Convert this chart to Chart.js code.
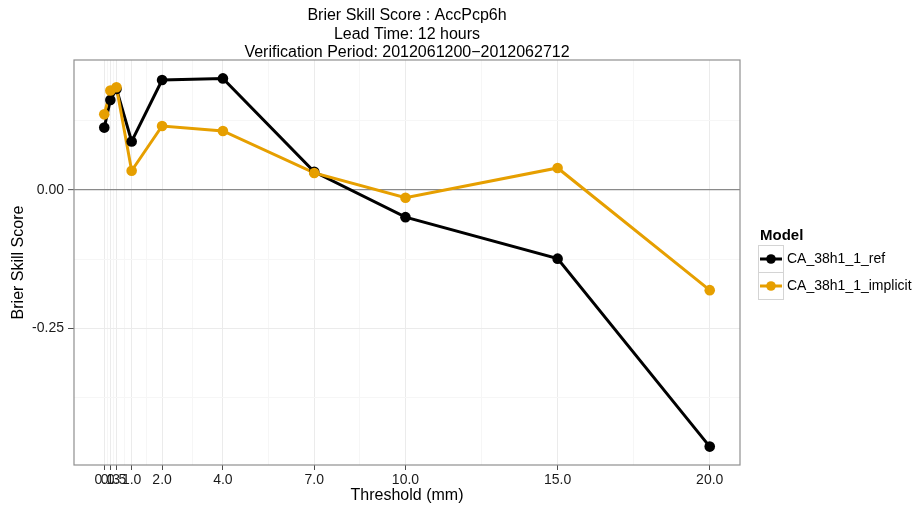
<!DOCTYPE html>
<html>
<head>
<meta charset="utf-8">
<script src="https://cdn.jsdelivr.net/npm/chart.js@4.4.1/dist/chart.umd.min.js"></script>
<style>
  html, body { margin: 0; padding: 0; background: #ffffff; }
  #wrap { width: 921px; height: 510px; position: relative; }
</style>
</head>
<body>
<div id="wrap"><canvas id="c" width="921" height="510"></canvas></div>
<script>
// Brier skill score by precipitation threshold, one series per model
const thresholds   = [0.1, 0.3, 0.5, 1.0, 2.0, 4.0, 7.0, 10.0, 15.0, 20.0];
const xTickLabels  = ['0.1', '0.3', '0.5', '1.0', '2.0', '4.0', '7.0', '10.0', '15.0', '20.0'];
const bssRef       = [0.113, 0.163, 0.183, 0.088, 0.199, 0.202, 0.033, -0.049, -0.124, -0.464];
const bssImplicit  = [0.137, 0.180, 0.186, 0.035, 0.116, 0.107, 0.031, -0.014, 0.040, -0.181];
const modelNames   = ['CA_38h1_1_ref', 'CA_38h1_1_implicit'];
const modelColors  = ['#000000', '#E69F00'];
const yBreaks      = [-0.25, 0.0];
const yTickLabels  = ['-0.25', '0.00'];
const titleLines   = ['Brier Skill Score : AccPcp6h', 'Lead Time: 12 hours', 'Verification Period: 2012061200\u22122012062712'];
const xTitle = 'Threshold (mm)';
const yTitle = 'Brier Skill Score';
const legendTitle = 'Model';

const FONT = '"Liberation Sans", Arial, Helvetica, sans-serif';

// continuous-scale limits padded by 5% of the data range on both sides
function expandRange(values, mult) {
  const lo = Math.min(...values), hi = Math.max(...values);
  const pad = (hi - lo) * mult;
  return [lo - pad, hi + pad];
}
const [xMin, xMax] = expandRange(thresholds, 0.05);
const [yMin, yMax] = expandRange(bssRef.concat(bssImplicit), 0.05);

// minor grid lines sit halfway between neighbouring breaks
function midpoints(breaks) {
  const out = [];
  for (let i = 0; i < breaks.length - 1; i++) out.push((breaks[i] + breaks[i + 1]) / 2);
  return out;
}
const xMinor = midpoints(thresholds);
const yMinor = midpoints([-0.5].concat(yBreaks, [0.25])).filter(v => v > yMin && v < yMax);

function pts(ys) { return thresholds.map((x, i) => ({ x: x, y: ys[i] })); }
const series = [bssRef, bssImplicit];

const datasets = [];
// lines for every model go underneath, points on top
series.forEach((ys, i) => {
  datasets.push({
    label: modelNames[i], data: pts(ys), showLine: true,
    borderColor: modelColors[i], borderWidth: 3, pointRadius: 0,
    order: 3 - i
  });
});
series.forEach((ys, i) => {
  datasets.push({
    label: modelNames[i] + ' points', data: pts(ys), showLine: false,
    backgroundColor: modelColors[i], borderColor: modelColors[i], borderWidth: 0,
    pointRadius: 5.3, order: 1 - i
  });
});

const isMajor = (list, v) => list.some(b => Math.abs(b - v) < 1e-9);

const panelPlugin = {
  id: 'panelDecor',
  afterDatasetsDraw(chart) {
    const { ctx, chartArea: a } = chart;
    ctx.save();
    ctx.strokeStyle = '#8f8f8f';
    ctx.lineWidth = 1.2;
    ctx.strokeRect(a.left, a.top, a.right - a.left, a.bottom - a.top);
    ctx.restore();
  },
  afterDraw(chart) {
    const { ctx, chartArea: a } = chart;
    ctx.save();
    // title block
    ctx.fillStyle = '#000';
    ctx.font = '16px ' + FONT;
    ctx.textAlign = 'center';
    ctx.textBaseline = 'alphabetic';
    const cx = (a.left + a.right) / 2;
    const baselines = [20, 38.5, 56.5];
    titleLines.forEach((t, i) => ctx.fillText(t, cx, baselines[i]));

    // legend
    const lx = 758, kw = 25, kh = 27, top0 = 245;
    ctx.textAlign = 'left';
    ctx.font = 'bold 15px ' + FONT;
    ctx.fillText(legendTitle, 760, 240);
    ctx.font = '14px ' + FONT;
    modelNames.forEach((name, i) => {
      const ky = top0 + i * kh;
      ctx.fillStyle = '#ffffff';
      ctx.fillRect(lx, ky, kw, kh);
      ctx.strokeStyle = '#d4d4d4';
      ctx.lineWidth = 1;
      ctx.strokeRect(lx + 0.5, ky + 0.5, kw, kh);
      const cy = ky + kh / 2 + 0.5;
      ctx.strokeStyle = modelColors[i];
      ctx.lineWidth = 3;
      ctx.beginPath();
      ctx.moveTo(lx + 2, cy);
      ctx.lineTo(lx + kw - 1, cy);
      ctx.stroke();
      ctx.fillStyle = modelColors[i];
      ctx.beginPath();
      ctx.arc(lx + kw / 2 + 0.5, cy, 4.8, 0, Math.PI * 2);
      ctx.fill();
      ctx.fillStyle = '#000';
      ctx.textBaseline = 'middle';
      ctx.fillText(name, lx + kw + 4, cy);
    });
    ctx.restore();
  }
};

new Chart(document.getElementById('c'), {
  type: 'scatter',
  data: { datasets: datasets },
  options: {
    responsive: false,
    animation: false,
    devicePixelRatio: 1,
    layout: { padding: { top: 60, right: 181, bottom: 0, left: 0 } },
    plugins: { legend: { display: false }, title: { display: false }, tooltip: { enabled: false } },
    scales: {
      x: {
        type: 'linear', min: xMin, max: xMax,
        afterBuildTicks(scale) {
          scale.ticks = thresholds.map(v => ({ value: v })).concat(xMinor.map(v => ({ value: v })));
        },
        afterFit(scale) { scale.height = 45; },
        border: { display: false },
        grid: {
          color: c => isMajor(thresholds, c.tick.value) ? '#ebebeb' : '#f6f6f6',
          lineWidth: 1,
          drawTicks: true,
          tickLength: 5,
          tickColor: c => isMajor(thresholds, c.tick.value) ? '#4d4d4d' : 'rgba(0,0,0,0)',
          tickWidth: 1
        },
        ticks: {
          autoSkip: false, maxRotation: 0, minRotation: 0, padding: 2,
          color: '#1a1a1a', font: { family: FONT, size: 14 },
          callback: v => {
            const i = thresholds.findIndex(b => Math.abs(b - v) < 1e-9);
            return i >= 0 ? xTickLabels[i] : '';
          }
        },
        title: { display: true, text: xTitle, color: '#000', font: { family: FONT, size: 16 }, padding: { top: 0, bottom: 5 } }
      },
      y: {
        type: 'linear', min: yMin, max: yMax,
        afterBuildTicks(scale) {
          scale.ticks = yBreaks.map(v => ({ value: v })).concat(yMinor.map(v => ({ value: v })));
        },
        afterFit(scale) { scale.width = 74; },
        border: { display: false },
        grid: {
          color: c => Math.abs(c.tick.value) < 1e-9 ? '#8a8a8a' : (isMajor(yBreaks, c.tick.value) ? '#ebebeb' : '#f6f6f6'),
          lineWidth: c => Math.abs(c.tick.value) < 1e-9 ? 1.3 : 1,
          drawTicks: true,
          tickLength: 6,
          tickColor: c => isMajor(yBreaks, c.tick.value) ? '#4d4d4d' : 'rgba(0,0,0,0)',
          tickWidth: 1
        },
        ticks: {
          autoSkip: false, padding: 4,
          color: '#1a1a1a', font: { family: FONT, size: 14 },
          callback: v => {
            const i = yBreaks.findIndex(b => Math.abs(b - v) < 1e-9);
            return i >= 0 ? yTickLabels[i] : '';
          }
        },
        title: { display: true, text: yTitle, color: '#000', font: { family: FONT, size: 16 }, padding: { top: 9, bottom: 0 } }
      }
    }
  },
  plugins: [panelPlugin]
});
</script>
</body>
</html>
